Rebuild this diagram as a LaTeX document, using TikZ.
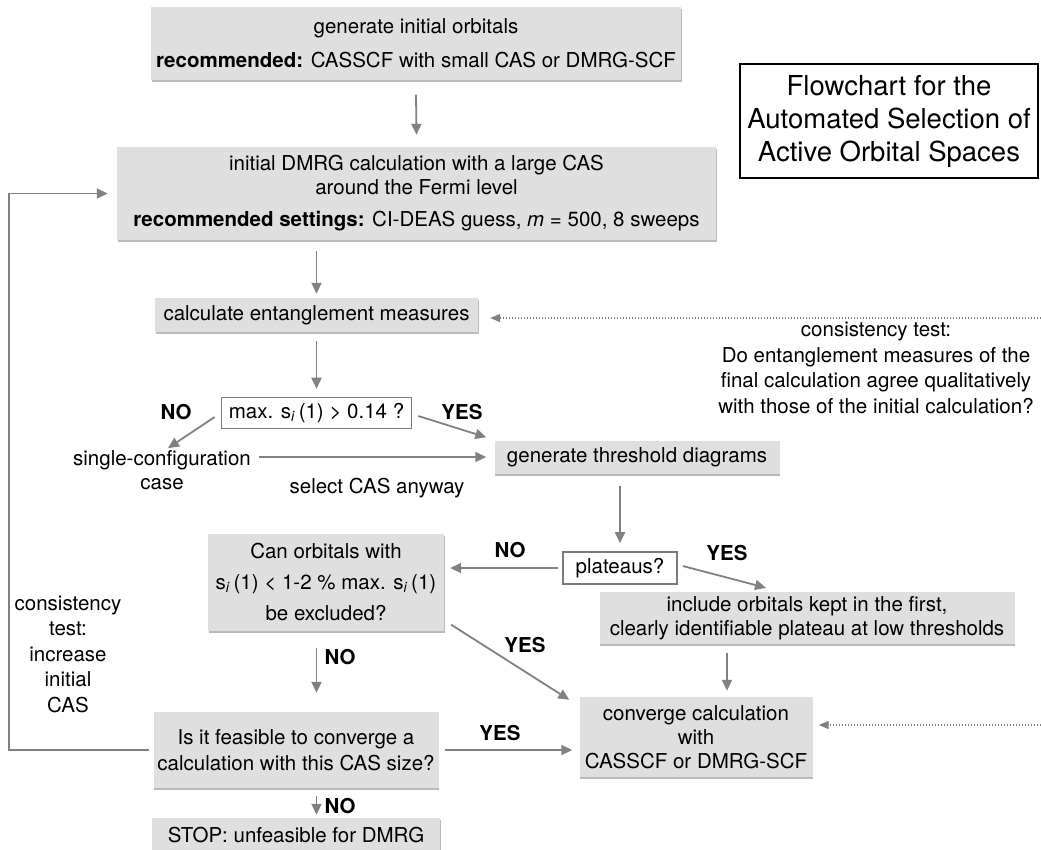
\documentclass[tikz,border=0pt]{standalone}
\usepackage{fontspec}
\setmainfont{TeX Gyre Heros}
\usetikzlibrary{arrows.meta,shadows,calc}
\definecolor{boxfill}{HTML}{DFDFE0}
\definecolor{arrcol}{HTML}{818181}
\definecolor{qcol}{HTML}{7A7A7A}
\begin{document}
\begin{tikzpicture}[x=1pt,y=-1pt,
  every node/.style={font=\fontsize{20.5}{24}\selectfont, align=center, inner sep=0pt},
  gbox/.style={fill=boxfill, drop shadow={shadow xshift=0.6pt, shadow yshift=-2pt, opacity=0.45, fill=black!60}},
  qbox/.style={fill=white, draw=qcol, line width=1.6pt},
  tbox/.style={draw=black, line width=1.4pt, font=\fontsize{27.5}{33}\selectfont},
  arr/.style={draw=arrcol, line width=1.8pt, -{Triangle[length=11pt,width=10pt]}},
  darr/.style={draw=arrcol, line width=1.3pt, dash pattern=on 1.3pt off 1.7pt, -{Triangle[length=10pt,width=8pt]}},
  lbl/.style={font=\bfseries\fontsize{20.5}{24}\selectfont},
]
\useasboundingbox (0,0) rectangle (1041,849);
\clip (0,0) rectangle (1041,849);

% boxes
\node[gbox, minimum width=530pt, minimum height=73pt] (b1) at (416,43)
  {generate initial orbitals\\[10pt]\textbf{recommended:} CASSCF with small CAS or DMRG-SCF};
\node[gbox, minimum width=599pt, minimum height=93pt] (b2) at (416.5,193.5)
  {initial DMRG calculation with a large CAS\\around the Fermi level\\[8pt]\textbf{recommended settings:} CI-DEAS guess, \textit{m} = 500, 8 sweeps};
\node[tbox, minimum width=298pt, minimum height=114pt] (title) at (889,121)
  {Flowchart for the\\Automated Selection of\\Active Orbital Spaces};
\node[gbox, minimum width=323pt, minimum height=34pt] (b3) at (316.5,315)
  {calculate entanglement measures};
\node[qbox, minimum width=190pt, minimum height=31pt] (q1) at (316.5,413)
  {max. s\textsubscript{\textit{i}}\,(1) > 0.14 ?};
\node (single) at (162,470) {single-configuration\\case};
\node (sel) at (377,488) {select CAS anyway};
\node[gbox, minimum width=285pt, minimum height=33pt] (b4) at (637,457)
  {generate threshold diagrams};
\node[qbox, minimum width=114pt, minimum height=32pt] (q2) at (620,568)
  {plateaus?};
\node[gbox, minimum width=236pt, minimum height=97pt] (b5) at (326,582)
  {Can orbitals with\\[7pt]s\textsubscript{\textit{i}}\,(1) < 1-2 \% max. s\textsubscript{\textit{i}}\,(1)\\[7pt]be excluded?};
\node[gbox, minimum width=415pt, minimum height=52pt] (b6) at (807,618)
  {include orbitals kept in the first,\\clearly identifiable plateau at low thresholds};
\node[gbox, minimum width=285pt, minimum height=76pt] (b7) at (296,750)
  {Is it feasible to converge a\\[2pt]calculation with this CAS size?};
\node[gbox, minimum width=288pt, minimum height=34pt] (b9) at (296,835)
  {STOP: unfeasible for DMRG};
\node[gbox, minimum width=233pt, minimum height=80pt] (b8) at (696,737)
  {converge calculation\\with\\CASSCF or DMRG-SCF};

% free texts
\node[font=\fontsize{20.5}{25.5}\selectfont] (cl) at (68,654) {consistency\\test:\\increase\\initial\\CAS};
\node[font=\fontsize{20.5}{25.5}\selectfont] (cr) at (876,368) {consistency test:\\Do entanglement measures of the\\final calculation agree qualitatively\\with those of the initial calculation?};

% labels
\node[lbl] (no1) at (176,412) {NO};
\node[lbl] (yes1) at (462,412) {YES};
\node[lbl] (no2) at (510,550) {NO};
\node[lbl] (yes2) at (727,553) {YES};
\node[lbl] (no3) at (340,657) {NO};
\node[lbl] (yes3) at (525,645) {YES};
\node[lbl] (yes4) at (500,733) {YES};
\node[lbl] (no4) at (340,806) {NO};

% connectors
\draw[arr] ($(b1.south)+(0,15)$) -- ($(b2.north)+(0,-12)$);
\draw[arr] ($(b2.south -| b3.north)+(0,11)$) -- ($(b3.north)+(0,-4)$);
\draw[arr] ($(b3.south)+(0,9)$) -- ($(q1.north)+(0,-8)$);
\draw[arr] ($(q1.west)+(-6,4)$) -- ($(single.north)+(6,-2)$);
\draw[arr] ($(q1.east)+(6,3)$) -- ($(b4.north west)+(-8,-3)$);
\draw[arr] ($(single.east |- b4.west)+(8,0)$) -- ($(b4.west)+(-8,0)$);
\draw[arr] ($(b4.south -| q2.north)+(0,12)$) -- ($(q2.north)+(0,-8)$);
\draw[arr] ($(q2.west)+(-4,0)$) -- ($(b5.east |- q2.west)+(6,0)$);
\draw[arr] ($(q2.east)+(5,-2)$) -- ($(b6.north)+(-41,-4)$);
\draw[arr] ($(b5.south -| b3.north)+(0,17)$) -- ($(b7.north -| b3.north)+(0,-19)$);
\draw[arr] ($(b5.south east)+(7,-6)$) -- ($(b8.north west)+(-10,3)$);
\draw[arr] ($(b7.east)+(6,0)$) -- ($(b8.west |- b7.east)+(-7,0)$);
\draw[arr] ($(b6.south)+(-80,9)$) -- ($(b8.north)+(31,-6)$);
\draw[arr] ($(b7.south -| b3.north)+(0,8)$) -- ($(b9.north -| b3.north)+(0,-3)$);
\coordinate (lx) at (9,0);
\draw[arr] ($(b7.west)+(-4,0)$) -| (lx |- b2.west) -- ($(b2.west)+(-9,0)$);
\coordinate (r1) at (1041,318);
\coordinate (r2) at (1041,725);
\draw[darr] (r1) -- ($(b3.east |- r1)+(12,0)$);
\draw[darr] (r2) -- ($(b8.east |- r2)+(6,0)$);
\end{tikzpicture}
\end{document}
